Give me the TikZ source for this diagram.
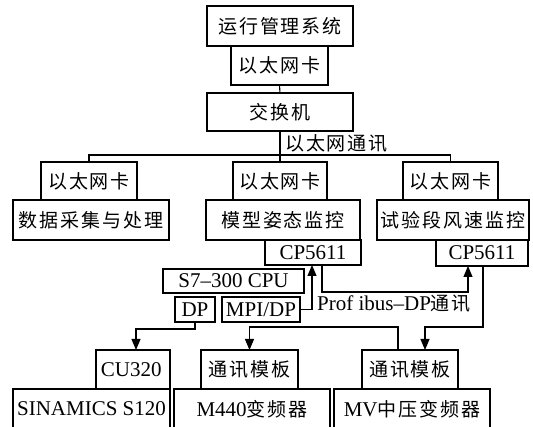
\documentclass[tikz,border=0pt]{standalone}
\usepackage{fontspec}
\setmainfont{Liberation Serif}
\newfontfamily\cjk[LetterSpace=10]{Noto Sans CJK SC}
\usetikzlibrary{arrows.meta}
\newcommand\zh[1]{{\cjk\fontsize{19}{22}\selectfont #1}}
\begin{document}
\begin{tikzpicture}[x=1pt,y=-1pt,
  box/.style={draw, line width=1.3pt, inner sep=0pt, outer sep=0pt, align=center,
    font=\fontsize{21}{24}\selectfont},
  conn/.style={line width=1.1pt},
  arr/.style={conn, -{Triangle[length=11pt,width=9pt]}},
  lbl/.style={inner sep=0pt, anchor=west, font=\fontsize{21}{24}\selectfont}]
\clip (0,0) rectangle (533,427);
\fill[white] (0,0) rectangle (533,427);
% top chain
\node[box, minimum width=146pt, minimum height=40pt] (sys) at (280,26) {\zh{运行管理系统}};
\node[box, minimum width=97pt, minimum height=39pt] (nic0) at (279.5,65.5) {\zh{以太网卡}};
\node[box, minimum width=146pt, minimum height=38pt] (sw) at (280,112) {\zh{交换机}};
% three branches
\node[box, minimum width=96pt, minimum height=38pt] (nic1) at (89,181) {\zh{以太网卡}};
\node[box, minimum width=156pt, minimum height=40pt] (daq) at (91,220) {\zh{数据采集与处理}};
\node[box, minimum width=94pt, minimum height=38pt] (nic2) at (280,181) {\zh{以太网卡}};
\node[box, minimum width=154pt, minimum height=40pt] (att) at (283,220) {\zh{模型姿态监控}};
\node[box, minimum width=96pt, minimum height=25pt] (cp1) at (313,252.5) {CP5611};
\node[box, minimum width=95pt, minimum height=38pt] (nic3) at (450.5,181) {\zh{以太网卡}};
\node[box, minimum width=152pt, minimum height=40pt] (wind) at (453,220) {\zh{试验段风速监控}};
\node[box, minimum width=92pt, minimum height=26pt] (cp2) at (482,253) {CP5611};
% PLC
\node[box, minimum width=141pt, minimum height=24pt] (cpu) at (233.5,281) {S7--300 CPU};
\node[box, minimum width=40pt, minimum height=25pt] (dp) at (195,309.5) {DP};
\node[box, minimum width=78pt, minimum height=25pt] (mpi) at (261,309.5) {MPI/DP};
% bottom
\node[box, minimum width=74pt, minimum height=39pt] (cu) at (133,369.5) {\hfill CU320\,};
\node[box, minimum width=157pt, minimum height=40pt] (sin) at (91.5,409) {SINAMICS S120};
\node[box, minimum width=97pt, minimum height=39pt] (com1) at (249.5,369.5) {\zh{通讯模板}};
\node[box, minimum width=156pt, minimum height=40pt] (m440) at (252,409) {M440\zh{变频器}};
\node[box, minimum width=96pt, minimum height=39pt] (com2) at (410,369.5) {\zh{通讯模板}};
\node[box, minimum width=156pt, minimum height=40pt] (mv) at (412,409) {MV\zh{中压变频器}};
% labels
\node[lbl] (eth) at (285,143) {\zh{以太网通讯}};
\node[lbl] (pb) at (317,304) {Prof ibus--DP\zh{通讯}};
% ethernet
\coordinate (bus) at (280,155);
\draw[conn] (nic0.south) -- (sw.north);
\draw[conn] (sw.south) -- (nic2.north);
\draw[conn] (nic1.north) -- (nic1.north |- bus) -- (nic3.north |- bus) -- (nic3.north);
% profibus
\draw[arr] (mpi.east) -| ([xshift=-1pt]cp1.south);
\draw[arr] ([xshift=9pt]cp1.south) -- ++(0,27) -| ([xshift=-14pt]cp2.south);
\draw[arr] ([xshift=1pt]cp2.south) -- ++(0,61) -| ([xshift=15pt]com2.north);
\draw[arr] ([xshift=-12pt]com2.north) -- ++(0,-23) -| (com1.north);
\draw[arr] (dp.south) -- ++(0,7) -| ([xshift=3pt]cu.north);
\end{tikzpicture}
\end{document}
